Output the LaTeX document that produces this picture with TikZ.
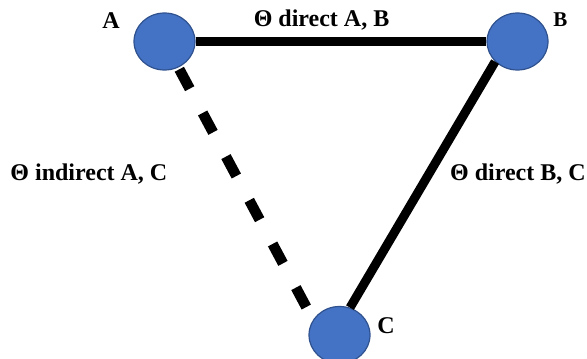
\documentclass[tikz,border=0pt]{standalone}
\usepackage{fontspec}
\setmainfont{Liberation Serif}
\usetikzlibrary{shapes.geometric,positioning}
\definecolor{nodeblue}{HTML}{4472C4}
\definecolor{nodeedge}{HTML}{2F528F}

\begin{document}
\begin{tikzpicture}[
x=0.5pt, y=-0.5pt,
every node/.style={font=\fontsize{12}{14}\selectfont\bfseries},
vertex/.style={
ellipse,
draw=nodeedge,
line width=0.6pt,
fill=nodeblue,
inner sep=0pt,
minimum width=30.5pt,
minimum height=28.5pt
},
link/.style={line width=4.5pt},
weaklink/.style={line width=5.25pt, dash pattern=on 11pt off 13.75pt, dash phase=23.75pt},
vname/.style={anchor=base west, inner sep=0pt}
]
\useasboundingbox (0,0) rectangle (587,358);

% Vertices
\node[vertex] (A) at (164.5,41.5) {};
\node[vertex] (B) at (517.5,41.5) {};
\node[vertex] (C) at (339.5,335) {};

% Vertex names
\node[vname] (nameA) at (102,29) {A};
\node[vname, font=\fontsize{10.5}{12}\selectfont\bfseries] (nameB) at (553,27) {B};
\node[vname] (nameC) at (377,333) {C};

% Links
\draw[link] (A) -- node[above, pos=0.433] (labAB) {Θ direct A, B} (B);
\draw[link] (B.222) -- node[right=5pt, pos=0.456] (labBC) {Θ direct B, C} (C.69);
\draw[weaklink] (A) -- node[left=28pt, pos=0.422] (labAC) {Θ indirect A, C} (C.150);

\end{tikzpicture}
\end{document}
